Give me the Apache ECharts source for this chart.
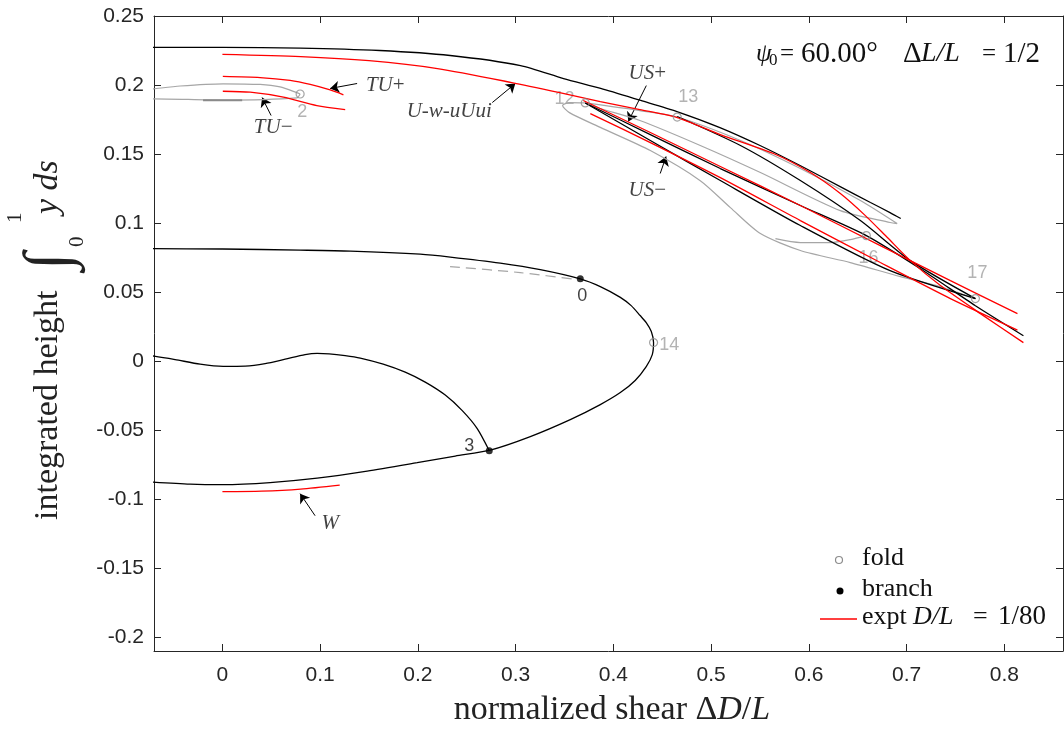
<!DOCTYPE html>
<html lang="en">
<head>
<meta charset="UTF-8">
<title>integrated height vs normalized shear</title>
<script src="https://cdn.jsdelivr.net/npm/echarts@6/dist/echarts.min.js"></script>
<style>html,body{margin:0;background:#fff;}</style>
</head>
<body>
<div id="main" style="width:1064px;height:733px;"></div>
<script>
// axis ticks
var xTicks = [0, 0.1, 0.2, 0.3, 0.4, 0.5, 0.6, 0.7, 0.8];
var yTicks = [-0.2, -0.15, -0.1, -0.05, 0, 0.05, 0.1, 0.15, 0.2, 0.25];

// black (stable) branches
var blackTop = [[-0.08,0.2272],[0,0.2272],[0.0795,0.2268],[0.161,0.225],[0.233,0.2214],[0.305,0.2141],[0.349,0.2047],[0.387,0.1975],[0.428,0.1888],[0.465,0.1808],[0.509,0.1692],[0.550,0.1562],[0.591,0.1417],[0.632,0.1264],[0.663,0.1149],[0.683,0.1076],[0.694,0.1033]];
var blackLoop = [[-0.08,0.0815],[0,0.0812],[0.0795,0.0804],[0.131,0.0797],[0.2024,0.0775],[0.2331,0.0754],[0.2843,0.071],[0.3252,0.0663],[0.3661,0.0596],[0.3866,0.054],[0.4071,0.0462],[0.4182,0.0402],[0.4274,0.033],[0.4336,0.0279],[0.4388,0.0214],[0.4411,0.0134],[0.4398,0.0047],[0.4336,-0.004],[0.4223,-0.014],[0.4071,-0.0228],[0.3866,-0.0315],[0.3559,-0.0424],[0.315,-0.0547],[0.274,-0.0645],[0.2382,-0.0688],[0.1993,-0.0736],[0.1481,-0.0797],[0.0969,-0.0848],[0.0488,-0.088],[0.0007,-0.0895],[-0.033,-0.0891],[-0.08,-0.0872]];
var blackWavy = [[-0.08,0.0044],[-0.0699,0.0036],[-0.0484,0.0011],[-0.0228,-0.0022],[0.0007,-0.0038],[0.0232,-0.0036],[0.0437,-0.0018],[0.0642,0.0014],[0.0846,0.0047],[0.0969,0.0056],[0.1092,0.0053],[0.1256,0.004],[0.141,0.0022],[0.1645,-0.0022],[0.187,-0.008],[0.2075,-0.0152],[0.228,-0.0246],[0.2454,-0.0359],[0.2607,-0.0489],[0.273,-0.0649]];
var black12a = [[0.3712,0.187],[0.4378,0.1641],[0.5094,0.1395],[0.5913,0.1127],[0.6588,0.0909],[0.7171,0.0655],[0.7704,0.0401],[0.8195,0.0184]];
var black12b = [[0.3712,0.187],[0.4378,0.1598],[0.5094,0.1308],[0.5913,0.0982],[0.6831,0.0655],[0.7704,0.0453]];
var black13 = [[0.4653,0.1772],[0.53,0.1562],[0.5913,0.1308],[0.6527,0.1018],[0.7038,0.0728],[0.7704,0.0453]];

// grey (unstable) branches
var greyTuUpper = [[-0.08,0.1965],[-0.0706,0.1972],[-0.0433,0.1993],[0.0007,0.2009],[0.0386,0.2004],[0.059,0.1986],[0.0762,0.1945],[0.0795,0.1935]];
var greyTuLower = [[-0.08,0.1899],[-0.07,0.19],[0,0.1891],[0.0762,0.1907],[0.0795,0.1935]];
var greyTuDark = [[-0.0198,0.1889],[0.0202,0.1889]];
var greyLens = [[0.3712,0.187],[0.4271,0.1815],[0.4653,0.1768],[0.53,0.1598],[0.5913,0.1395],[0.6527,0.1163],[0.6903,0.0996],[0.6831,0.1004],[0.6322,0.109],[0.5504,0.1366],[0.4889,0.1562],[0.4271,0.1743],[0.3866,0.183],[0.3712,0.187]];
var greyLoop = [[0.3712,0.187],[0.355,0.1873],[0.348,0.1851],[0.355,0.18],[0.3866,0.1693],[0.4378,0.1525],[0.4889,0.1307],[0.5197,0.1112],[0.5504,0.0924],[0.5913,0.0801],[0.6424,0.0714],[0.6937,0.0612],[0.7346,0.0539],[0.7704,0.0453]];
var grey16 = [[0.5658,0.0887],[0.5913,0.0859],[0.622,0.0859],[0.6425,0.088],[0.6588,0.0909]];
var greyDash = [[0.2329,0.0685],[0.3047,0.0641],[0.363,0.059]];

// experiments D/L = 1/80
var redUw = [[0,0.2222],[0.08,0.2206],[0.15,0.2176],[0.22,0.2119],[0.296,0.2018],[0.345,0.1945],[0.3866,0.188],[0.4271,0.1822],[0.4653,0.1764],[0.5094,0.1641],[0.5637,0.1504],[0.6015,0.1366],[0.6322,0.1214],[0.6578,0.1054],[0.6803,0.0895],[0.7038,0.0728],[0.7346,0.0547],[0.7755,0.0344],[0.8195,0.0134]];
var redUsPlus = [[0.3692,0.1888],[0.4378,0.1656],[0.5094,0.141],[0.5913,0.1127],[0.6731,0.0837],[0.7448,0.0583],[0.8134,0.0344]];
var redUsMinus = [[0.3764,0.1793],[0.4378,0.1583],[0.5094,0.1329],[0.5913,0.1018],[0.6731,0.0714],[0.7448,0.0453],[0.8134,0.0225]];
var redTuPlus = [[0.0004,0.2062],[0.0386,0.2054],[0.0693,0.2033],[0.0898,0.2004],[0.1102,0.1964],[0.1238,0.1929]];
var redTuMinus = [[0.0004,0.1955],[0.0284,0.1948],[0.0624,0.1912],[0.0966,0.1851],[0.1256,0.1822]];
var redW = [[0,-0.0946],[0.04,-0.0942],[0.08,-0.0927],[0.12,-0.0898]];

// special points
var foldPts = [[0.0795,0.1935],[0.3712,0.187],[0.4653,0.1768],[0.4411,0.0134],[0.6588,0.0909],[0.7704,0.0453]];
var branchPts = [[0.3661,0.0596],[0.273,-0.0649]];
var greyNums = [[0.0816,0.1801,'2'],[0.3499,0.1902,'12'],[0.4767,0.191,'13'],[0.4572,0.012,'14'],[0.6609,0.075,'16'],[0.7724,0.0641,'17']];
var blackNums = [[0.3682,0.0475,'0'],[0.2525,-0.0612,'3']];

// annotations: label position, arrow tail -> head
var noteLabels = [[0.1666,0.1996,'{i|TU}{n|+}'],[0.0519,0.1692,'{i|TU}{n|\u2212}'],[0.2321,0.1808,'{i|U}{n|-}{i|w}{n|-}{i|uUui}'],[0.4347,0.2083,'{i|US}{n|+}'],[0.4347,0.1236,'{i|US}{n|\u2212}'],[0.1102,-0.1178,'{i|W}']];
var noteArrows = [
  [[0.1378,0.2011],[0.1102,0.1975]],
  [[0.0498,0.1779],[0.0406,0.1909]],
  [[0.2761,0.1873],[0.2997,0.2011]],
  [[0.4337,0.1996],[0.4153,0.1736]],
  [[0.4479,0.1359],[0.4539,0.1482]],
  [[0.0948,-0.112],[0.0795,-0.096]]
];

var SERIF = '"Liberation Serif", "Times New Roman", serif';
var SANS = '"Liberation Sans", Arial, Helvetica, sans-serif';
var AXC = '#262626';

function fmt(v) { return String(parseFloat(v.toFixed(2))); }

function curve(data, color, width, extra) {
    var s = {
        type: 'line', data: data, symbol: 'none', showSymbol: false,
        smooth: 0.25, clip: true, silent: true,
        lineStyle: { color: color, width: width }
    };
    for (var k in extra) s[k] = extra[k];
    return s;
}

var chart = echarts.init(document.getElementById('main'));

function tickAxis(pos, min, max, ticks, showLabel) {
    return {
        type: 'value', position: pos, min: min, max: max,
        axisLine: { show: true, onZero: false, lineStyle: { color: AXC, width: 1 } },
        axisTick: { show: true, inside: true, length: 7, customValues: ticks, lineStyle: { color: AXC } },
        axisLabel: { show: showLabel, customValues: ticks, formatter: fmt, color: AXC, fontSize: 21, fontFamily: SANS, margin: pos === 'bottom' ? 14 : 10 },
        splitLine: { show: false }
    };
}

function txt(x, y, s, font, extra) {
    var st = { text: s, font: font, fill: '#111', verticalAlign: 'middle' };
    for (var k in extra) st[k] = extra[k];
    return { type: 'text', x: x, y: y, style: st };
}

var grey = '#a6a6a6';
var F29 = '29px ' + SERIF, I28 = 'italic 28px ' + SERIF;
chart.setOption({
    animation: false,
    grid: { left: 154, right: 1, top: 16, bottom: 82 },
    xAxis: [tickAxis('bottom', -0.07, 0.86, xTicks, true), tickAxis('top', -0.07, 0.86, xTicks, false)],
    yAxis: [tickAxis('left', -0.21, 0.25, yTicks, true), tickAxis('right', -0.21, 0.25, yTicks, false)],
    series: [
        curve(greyTuUpper, grey, 1.2),
        curve(greyTuLower, grey, 1.2),
        curve(greyTuDark, '#8a8a8a', 2),
        curve(greyLens, grey, 1.2),
        curve(greyLoop, grey, 1.2),
        curve(grey16, grey, 1.2),
        curve(greyDash, grey, 1.2, { lineStyle: { color: grey, width: 1.2, type: [10, 6] } }),
        curve(blackTop, '#000', 1.3),
        curve(blackLoop, '#000', 1.3),
        curve(blackWavy, '#000', 1.3),
        curve(black12a, '#000', 1.3),
        curve(black12b, '#000', 1.3),
        curve(black13, '#000', 1.3),
        curve(redUw, '#ff0000', 1.3),
        curve(redUsPlus, '#ff0000', 1.3),
        curve(redUsMinus, '#ff0000', 1.3),
        curve(redTuPlus, '#ff0000', 1.3),
        curve(redTuMinus, '#ff0000', 1.3),
        curve(redW, '#ff0000', 1.3),
        {
            type: 'lines', coordinateSystem: 'cartesian2d', silent: true,
            symbol: ['none', 'arrow'], symbolSize: 9,
            lineStyle: { color: '#000', width: 1, opacity: 1, curveness: 0 },
            data: noteArrows.map(function (a) { return { coords: a }; })
        },
        {
            type: 'scatter', data: foldPts, symbol: 'circle', symbolSize: 8, silent: true, z: 5,
            itemStyle: { color: 'rgba(255,255,255,0)', borderColor: '#8c8c8c', borderWidth: 1.2 }
        },
        {
            type: 'scatter', data: branchPts, symbol: 'circle', symbolSize: 7, silent: true, z: 5,
            itemStyle: { color: '#000' }
        },
        {
            type: 'scatter', data: greyNums, symbolSize: 0, silent: true,
            label: { show: true, position: 'inside', formatter: function (p) { return p.data[2]; }, color: '#a0a0a0', fontSize: 18, fontFamily: SANS }
        },
        {
            type: 'scatter', data: blackNums, symbolSize: 0, silent: true,
            label: { show: true, position: 'inside', formatter: function (p) { return p.data[2]; }, color: '#111', fontSize: 18, fontFamily: SANS }
        },
        {
            type: 'scatter', data: noteLabels, symbolSize: 0, silent: true,
            label: {
                show: true, position: 'inside', formatter: function (p) { return p.data[2]; },
                rich: {
                    i: { fontStyle: 'italic', fontSize: 21, fontFamily: SERIF, color: '#111' },
                    n: { fontSize: 21, fontFamily: SERIF, color: '#111' }
                }
            }
        }
    ],
    graphic: [
        // x axis title
        txt(612, 710, '{n|normalized shear \u0394}{i|D}{n|/}{i|L}', null, {
            align: 'center', fill: '#222',
            rich: { n: { font: '34px ' + SERIF, fill: '#222' }, i: { font: 'italic 34px ' + SERIF, fill: '#222' } } }),
        // y axis title, rotated
        { type: 'group', x: 48, y: 520, rotation: Math.PI / 2, children: [
            txt(0, 0, 'integrated height', '34px ' + SERIF, { fill: '#222' }),
            txt(250, 3, '\u222B', '64px ' + SERIF, { fill: '#222' }),
            txt(297, -33, '1', '21px ' + SERIF, { fill: '#222' }),
            txt(273, 29, '0', '21px ' + SERIF, { fill: '#222' }),
            txt(306, 0, 'y ds', 'italic 34px ' + SERIF, { fill: '#222' })
        ] },
        // parameters
        txt(756, 54, '\u03C8', 'italic 25px ' + SERIF),
        txt(769, 61, '0', '17px ' + SERIF),
        txt(780, 54, '=', '25px ' + SERIF),
        txt(801, 54, '60.00\u00B0', F29),
        txt(903, 54, '\u0394', F29),
        txt(921, 54, 'L/L', I28),
        txt(982, 54, '=', '25px ' + SERIF),
        txt(1003, 54, '1/2', F29),
        // legend
        { type: 'circle', shape: { cx: 839, cy: 560, r: 3.5 }, style: { fill: 'none', stroke: '#8c8c8c', lineWidth: 1.2 } },
        txt(862, 558, 'fold', '26px ' + SERIF),
        { type: 'circle', shape: { cx: 840, cy: 591, r: 3.5 }, style: { fill: '#000' } },
        txt(862, 589, 'branch', '26px ' + SERIF),
        { type: 'line', shape: { x1: 820, y1: 619, x2: 857, y2: 619 }, style: { stroke: '#ff0000', lineWidth: 1.5 } },
        txt(862, 617, 'expt', '26px ' + SERIF),
        txt(913, 617, 'D/L', 'italic 26px ' + SERIF),
        txt(973, 617, '=', '26px ' + SERIF),
        txt(998, 617, '1/80', '27px ' + SERIF)
    ]
});
</script>
</body>
</html>
